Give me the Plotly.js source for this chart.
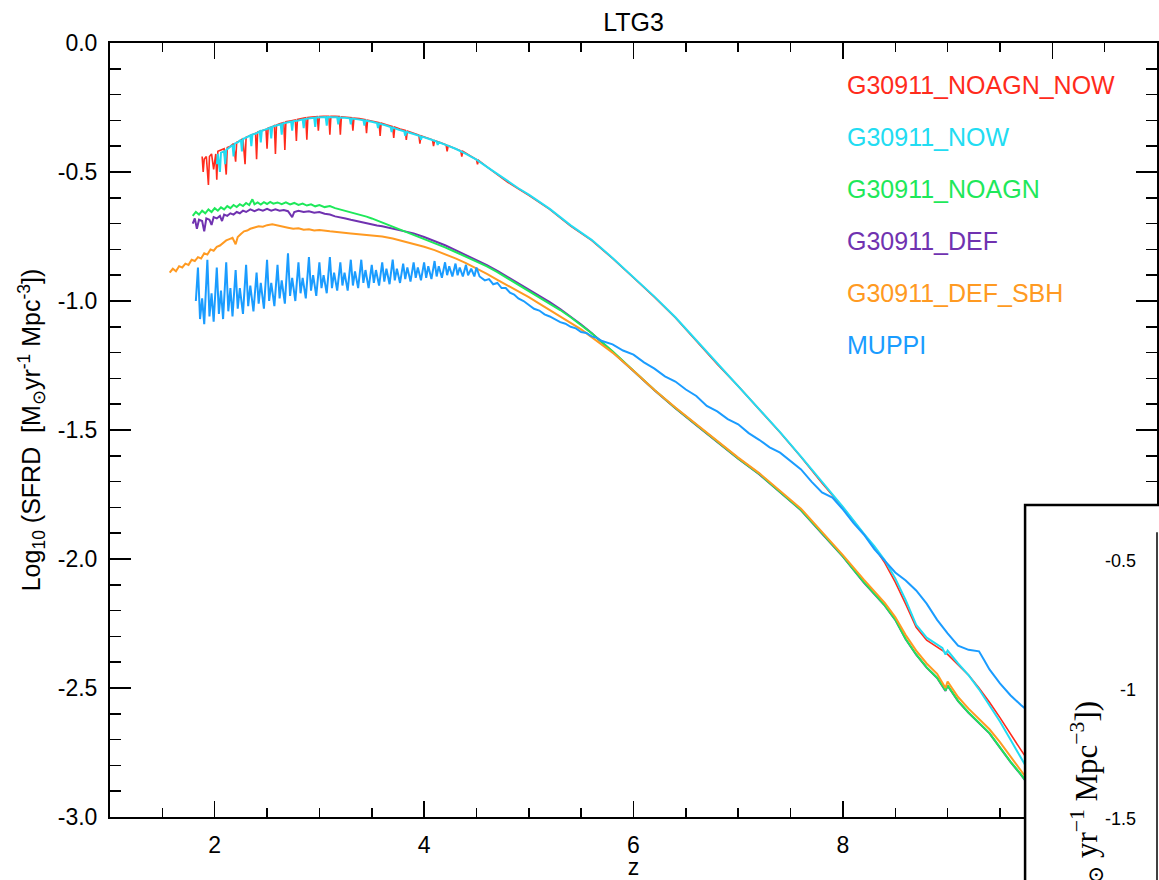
<!DOCTYPE html>
<html>
<head>
<meta charset="utf-8">
<script src="https://cdn.plot.ly/plotly-3.0.1.min.js"></script>
<style>html,body{margin:0;padding:0;background:#fff;}#chart{width:1159px;height:880px;}</style>
</head>
<body>
<div id="chart"></div>
<script>
// ---------------- data ----------------
const seriesNames = ["G30911_NOAGN_NOW", "G30911_NOW", "G30911_NOAGN", "G30911_DEF", "G30911_DEF_SBH", "MUPPI"];
const seriesColors = ["#ff2b1c", "#22dcf2", "#1ee85a", "#7032b0", "#ff9a22", "#1a9cff"];
const drawOrder = [0, 1, 3, 2, 4, 5];

const zNoagnNow = [1.88,1.89,1.90,1.92,1.94,1.95,1.97,1.99,2.01,2.02,
 2.03,2.06,2.09,2.11,2.12,2.15,2.18,2.20,2.21,2.24,
 2.27,2.29,2.30,2.33,2.36,2.39,2.40,2.41,2.45,2.49,
 2.50,2.51,2.55,2.57,2.58,2.59,2.62,2.66,2.67,2.68,
 2.72,2.77,2.78,2.79,2.83,2.87,2.88,2.89,2.93,2.98,
 2.99,3.00,3.04,3.09,3.10,3.11,3.15,3.19,3.20,3.21,
 3.26,3.31,3.32,3.33,3.38,3.44,3.45,3.46,3.52,3.57,
 3.58,3.59,3.64,3.70,3.71,3.72,3.77,3.82,3.83,3.84,
 3.90,3.95,3.96,3.97,4.03,4.08,4.09,4.10,4.16,4.21,
 4.22,4.23,4.30,4.35,4.36,4.37,4.45,4.50,4.51,4.52,
 4.60,4.7,4.8,4.9,5.0,5.2,5.4,5.6,5.8,6.0,6.2,
 6.4,6.6,6.8,7.0,7.2,7.4,7.6,7.8,8.0,8.2,
 8.3,8.4,8.5,8.6,8.7,8.8,8.9,8.97,9.0,9.1,
 9.2,9.3,9.4,9.5,9.6,9.7,9.8,10.0];
const yNoagnNow = [-0.44,-0.50,-0.45,-0.44,-0.55,-0.44,-0.43,-0.49,-0.43,-0.53,
 -0.42,-0.415,-0.41,-0.51,-0.405,-0.40,-0.39,-0.46,-0.385,-0.38,
 -0.37,-0.47,-0.365,-0.36,-0.355,-0.35,-0.45,-0.345,-0.34,-0.335,
 -0.41,-0.33,-0.325,-0.32,-0.43,-0.318,-0.313,-0.308,-0.415,-0.305,
 -0.302,-0.298,-0.38,-0.296,-0.293,-0.29,-0.375,-0.289,-0.287,-0.285,
 -0.34,-0.285,-0.284,-0.284,-0.355,-0.284,-0.284,-0.285,-0.355,-0.286,
 -0.288,-0.29,-0.34,-0.291,-0.293,-0.297,-0.35,-0.299,-0.304,-0.309,
 -0.36,-0.31,-0.317,-0.324,-0.368,-0.326,-0.333,-0.339,-0.376,-0.341,
 -0.35,-0.357,-0.39,-0.36,-0.368,-0.375,-0.40,-0.378,-0.387,-0.395,
 -0.42,-0.398,-0.41,-0.418,-0.44,-0.42,-0.44,-0.452,-0.47,-0.455,
 -0.48,-0.51,-0.54,-0.565,-0.59,-0.645,-0.71,-0.765,-0.835,-0.91,-0.985,
 -1.065,-1.155,-1.245,-1.33,-1.42,-1.51,-1.605,-1.705,-1.80,-1.905,
 -1.955,-2.015,-2.09,-2.175,-2.265,-2.315,-2.34,-2.36,-2.37,-2.41,
 -2.45,-2.50,-2.555,-2.615,-2.68,-2.74,-2.80,-2.92];

const zNow = [2.02,2.03,2.05,2.06,2.09,2.10,2.11,2.14,2.17,2.18,
 2.19,2.22,2.25,2.26,2.27,2.31,2.34,2.35,2.36,2.40,
 2.43,2.44,2.45,2.49,2.53,2.54,2.55,2.59,2.63,2.64,
 2.65,2.69,2.73,2.74,2.75,2.80,2.84,2.85,2.86,2.91,
 2.95,2.96,2.97,3.02,3.06,3.07,3.08,3.13,3.17,3.18,
 3.19,3.24,3.29,3.30,3.31,3.37,3.42,3.43,3.44,3.50,
 3.55,3.56,3.57,3.63,3.68,3.69,3.70,3.76,3.81,3.82,
 3.83,3.90,3.96,3.97,3.98,4.05,4.12,4.13,4.14,4.22,
 4.30,4.4,4.5,4.6,4.7,4.8,4.9,5.0,5.2,5.4,
 5.6,5.8,6.0,6.2,6.4,6.6,6.8,7.0,7.2,7.4,
 7.6,7.8,8.0,8.2,8.3,8.4,8.5,8.6,8.7,8.8,
 8.9,8.95,8.98,9.0,9.1,9.2,9.3,9.4,9.5,9.6,
 9.7,9.8,10.0];
const yNow = [-0.47,-0.43,-0.50,-0.425,-0.42,-0.47,-0.415,-0.405,-0.395,-0.44,
 -0.39,-0.385,-0.375,-0.42,-0.372,-0.365,-0.358,-0.40,-0.355,-0.35,
 -0.342,-0.385,-0.34,-0.335,-0.328,-0.37,-0.325,-0.32,-0.315,-0.355,
 -0.312,-0.308,-0.305,-0.34,-0.303,-0.30,-0.296,-0.33,-0.295,-0.292,
 -0.29,-0.325,-0.289,-0.288,-0.287,-0.32,-0.287,-0.288,-0.288,-0.315,
 -0.289,-0.29,-0.292,-0.315,-0.293,-0.296,-0.299,-0.32,-0.30,-0.305,
 -0.31,-0.33,-0.312,-0.319,-0.326,-0.345,-0.328,-0.336,-0.342,-0.36,
 -0.344,-0.353,-0.361,-0.375,-0.363,-0.372,-0.382,-0.395,-0.385,-0.397,
 -0.41,-0.43,-0.452,-0.48,-0.508,-0.538,-0.563,-0.588,-0.643,-0.707,
 -0.763,-0.833,-0.908,-0.983,-1.063,-1.152,-1.242,-1.328,-1.418,-1.508,
 -1.603,-1.702,-1.798,-1.902,-1.95,-2.005,-2.075,-2.16,-2.255,-2.305,
 -2.33,-2.345,-2.37,-2.355,-2.405,-2.45,-2.505,-2.565,-2.63,-2.70,
 -2.77,-2.84,-2.97];

const zNoagn = [1.79,1.82,1.85,1.88,1.91,1.94,1.97,2.00,2.03,2.06,
 2.09,2.12,2.15,2.18,2.21,2.24,2.27,2.30,2.33,2.36,
 2.38,2.41,2.44,2.47,2.50,2.53,2.56,2.60,2.64,2.68,
 2.72,2.76,2.80,2.84,2.88,2.92,2.96,3.00,3.05,3.10,
 3.15,3.20,3.25,3.30,3.35,3.40,3.45,3.50,3.55,3.60,
 3.65,3.70,3.75,3.80,3.85,3.90,4.0,4.1,4.2,4.3,
 4.4,4.5,4.6,4.7,4.8,4.9,5.0,5.1,5.2,5.3,
 5.4,5.5,5.6,5.7,5.8,6.0,6.2,6.4,6.6,6.8,
 7.0,7.2,7.4,7.6,7.8,8.0,8.1,8.2,8.4,8.5,
 8.6,8.7,8.8,8.9,8.98,9.0,9.1,9.2,9.3,9.4,
 9.5,9.6,9.7,9.8,10.0];
const yNoagn = [-0.67,-0.655,-0.665,-0.65,-0.66,-0.645,-0.655,-0.64,-0.65,-0.637,
 -0.645,-0.632,-0.64,-0.628,-0.636,-0.625,-0.632,-0.62,-0.628,-0.606,
 -0.625,-0.618,-0.626,-0.617,-0.624,-0.616,-0.623,-0.618,-0.625,-0.618,
 -0.626,-0.62,-0.628,-0.622,-0.63,-0.625,-0.633,-0.628,-0.636,-0.632,
 -0.64,-0.645,-0.65,-0.655,-0.66,-0.667,-0.673,-0.68,-0.688,-0.695,
 -0.703,-0.712,-0.72,-0.727,-0.735,-0.743,-0.76,-0.776,-0.792,-0.81,
 -0.828,-0.846,-0.866,-0.888,-0.912,-0.936,-0.96,-0.984,-1.008,-1.035,
 -1.063,-1.093,-1.125,-1.16,-1.195,-1.27,-1.345,-1.415,-1.48,-1.545,
 -1.61,-1.67,-1.74,-1.81,-1.90,-1.99,-2.04,-2.09,-2.18,-2.235,
 -2.31,-2.37,-2.42,-2.46,-2.51,-2.49,-2.55,-2.595,-2.635,-2.675,
 -2.73,-2.785,-2.835,-2.89,-3.0];

const zDef = [1.79,1.81,1.83,1.85,1.88,1.90,1.92,1.95,1.97,1.99,
 2.02,2.05,2.07,2.09,2.12,2.15,2.18,2.21,2.24,2.27,
 2.30,2.34,2.38,2.42,2.46,2.50,2.54,2.58,2.62,2.66,
 2.70,2.74,2.76,2.80,2.85,2.90,2.95,3.00,3.05,3.10,
 3.15,3.20,3.25,3.30,3.35,3.40,3.45,3.50,3.55,3.60,
 3.65,3.70,3.75,3.80,3.85,3.90,4.0,4.1,4.2,4.3,
 4.4,4.5,4.6,4.7,4.8,4.9,5.0,5.1,5.2,5.3,
 5.4,5.5,5.6,5.7,5.8,6.0,6.2,6.4,6.6,6.8,
 7.0,7.2,7.4,7.6,7.8,8.0,8.1,8.2,8.4,8.5,
 8.6,8.7,8.8,8.9,8.98,9.0,9.1,9.2,9.3,9.4,
 9.5,9.6,9.7,9.8,10.0];
const yDef = [-0.70,-0.68,-0.72,-0.685,-0.69,-0.73,-0.68,-0.685,-0.705,-0.675,
 -0.68,-0.67,-0.69,-0.665,-0.67,-0.66,-0.665,-0.655,-0.66,-0.65,
 -0.655,-0.645,-0.652,-0.645,-0.65,-0.643,-0.65,-0.645,-0.65,-0.647,
 -0.652,-0.675,-0.655,-0.65,-0.655,-0.652,-0.658,-0.655,-0.662,-0.665,
 -0.672,-0.675,-0.68,-0.685,-0.69,-0.695,-0.70,-0.703,-0.707,-0.71,
 -0.715,-0.72,-0.724,-0.728,-0.733,-0.738,-0.752,-0.767,-0.784,-0.803,
 -0.822,-0.841,-0.861,-0.883,-0.907,-0.931,-0.955,-0.98,-1.004,-1.031,
 -1.06,-1.091,-1.124,-1.16,-1.196,-1.271,-1.346,-1.416,-1.481,-1.546,
 -1.611,-1.671,-1.741,-1.811,-1.901,-1.991,-2.041,-2.091,-2.181,-2.236,
 -2.311,-2.371,-2.421,-2.461,-2.511,-2.491,-2.551,-2.596,-2.636,-2.676,
 -2.731,-2.786,-2.836,-2.891,-3.0];

const zDefSbh = [1.57,1.60,1.63,1.66,1.69,1.72,1.75,1.78,1.81,1.84,
 1.87,1.90,1.93,1.96,1.99,2.02,2.05,2.08,2.11,2.14,
 2.17,2.20,2.22,2.25,2.28,2.31,2.34,2.38,2.42,2.46,
 2.50,2.55,2.60,2.65,2.70,2.75,2.80,2.85,2.90,2.95,
 3.00,3.10,3.20,3.30,3.40,3.50,3.60,3.70,3.80,3.90,
 4.0,4.1,4.2,4.3,4.4,4.5,4.6,4.7,4.8,4.9,
 5.0,5.1,5.2,5.3,5.4,5.5,5.6,5.7,5.8,6.0,
 6.2,6.4,6.6,6.8,7.0,7.2,7.4,7.6,7.8,8.0,
 8.2,8.4,8.5,8.6,8.7,8.8,8.9,8.98,9.0,9.1,
 9.2,9.3,9.4,9.5,9.6,9.7,9.8,10.0];
const yDefSbh = [-0.89,-0.875,-0.885,-0.865,-0.87,-0.855,-0.86,-0.84,-0.845,-0.83,
 -0.835,-0.815,-0.82,-0.80,-0.805,-0.79,-0.785,-0.775,-0.765,-0.76,
 -0.755,-0.78,-0.752,-0.74,-0.73,-0.727,-0.72,-0.715,-0.71,-0.712,
 -0.706,-0.703,-0.708,-0.712,-0.716,-0.72,-0.718,-0.724,-0.722,-0.727,
 -0.725,-0.73,-0.735,-0.738,-0.742,-0.745,-0.75,-0.758,-0.768,-0.78,
 -0.79,-0.803,-0.818,-0.835,-0.853,-0.873,-0.895,-0.918,-0.94,-0.962,
 -0.985,-1.01,-1.035,-1.06,-1.085,-1.11,-1.14,-1.17,-1.20,-1.27,
 -1.345,-1.413,-1.478,-1.542,-1.607,-1.667,-1.736,-1.805,-1.895,-1.985,
 -2.08,-2.17,-2.225,-2.295,-2.355,-2.405,-2.445,-2.50,-2.475,-2.535,
 -2.58,-2.62,-2.66,-2.71,-2.765,-2.82,-2.875,-2.98];

const zMuppi = [1.82,
 1.84,1.86,1.88,1.90, 1.93,1.95,1.97,1.99, 2.02,2.04,2.06,2.08, 2.11,2.13,2.15,2.17,
 2.20,2.22,2.24,2.27, 2.30,2.32,2.34,2.37, 2.40,2.42,2.44,2.47, 2.50,2.52,2.54,2.57,
 2.60,2.62,2.64,2.67, 2.70,2.72,2.74,2.77, 2.80,2.82,2.84,2.87, 2.90,2.92,2.94,2.97,
 3.00,3.02,3.04,3.07, 3.10,3.12,3.14,3.17, 3.20,3.22,3.24,3.27, 3.30,3.32,3.34,3.37,
 3.40,3.42,3.44,3.47, 3.50,3.52,3.54,3.57, 3.60,3.62,3.64,3.67, 3.70,3.72,3.74,3.77,
 3.80,3.82,3.84,3.87, 3.90,3.92,3.94,3.97, 4.00,4.02,4.04,4.07, 4.10,4.12,4.14,4.17,
 4.20,4.22,4.24,4.27, 4.30,4.32,4.34,4.37, 4.40,4.42,4.45,4.48, 4.50,4.53,
 4.58,4.62,4.66,4.70,4.74,4.78,4.82,4.86,4.90,4.95,
 5.0,5.05,5.1,5.15,5.2,5.25,5.3,5.35,5.4,5.45,
 5.5,5.55,5.6,5.65,5.7,5.8,5.9,6.0,6.1,6.2,
 6.3,6.4,6.5,6.6,6.7,6.8,6.9,7.0,7.1,7.2,
 7.3,7.4,7.5,7.6,7.7,7.8,7.9,8.0,8.1,8.2,
 8.3,8.4,8.5,8.6,8.7,8.8,8.9,9.0,9.1,9.2,
 9.3,9.35,9.4,9.5,9.6,9.7,9.8,10.0];
const yMuppi = [-1.00,
 -0.87,-1.07,-0.99,-1.09, -0.84,-1.06,-0.97,-1.08, -0.87,-1.05,-0.96,-1.07, -0.85,-1.04,-0.95,-1.06,
 -0.88,-1.03,-0.95,-1.05, -0.86,-1.02,-0.94,-1.04, -0.89,-1.01,-0.93,-1.03, -0.84,-1.00,-0.93,-1.02,
 -0.86,-0.99,-0.92,-1.01, -0.815,-0.98,-0.91,-1.00, -0.85,-0.97,-0.91,-0.99, -0.83,-0.96,-0.90,-0.98,
 -0.85,-0.95,-0.90,-0.97, -0.83,-0.95,-0.89,-0.96, -0.85,-0.94,-0.89,-0.96, -0.84,-0.94,-0.885,-0.95,
 -0.84,-0.93,-0.88,-0.95, -0.86,-0.93,-0.88,-0.94, -0.85,-0.925,-0.875,-0.935, -0.84,-0.92,-0.875,-0.93,
 -0.855,-0.915,-0.87,-0.925, -0.85,-0.91,-0.87,-0.92, -0.85,-0.91,-0.865,-0.915, -0.845,-0.905,-0.865,-0.91,
 -0.85,-0.90,-0.865,-0.905, -0.855,-0.90,-0.87,-0.905, -0.86,-0.90,-0.875,-0.905, -0.87,-0.905,
 -0.92,-0.915,-0.935,-0.93,-0.95,-0.95,-0.968,-0.975,-0.99,-1.0,
 -1.015,-1.03,-1.037,-1.052,-1.06,-1.07,-1.082,-1.088,-1.10,-1.106,
 -1.12,-1.124,-1.137,-1.143,-1.155,-1.168,-1.192,-1.208,-1.238,-1.262,
 -1.292,-1.312,-1.343,-1.368,-1.407,-1.428,-1.458,-1.478,-1.512,-1.538,
 -1.567,-1.588,-1.622,-1.653,-1.70,-1.742,-1.762,-1.808,-1.86,-1.905,
 -1.962,-2.008,-2.052,-2.083,-2.122,-2.173,-2.236,-2.288,-2.336,-2.352,
 -2.358,-2.392,-2.428,-2.482,-2.528,-2.566,-2.60,-2.70];

const xTickVals = [2, 4, 6, 8, 10];
const xTickText = ["2", "4", "6", "8", "10"];
const yTickVals = [0, -0.5, -1, -1.5, -2, -2.5, -3];
const yTickText = ["0.0", "-0.5", "-1.0", "-1.5", "-2.0", "-2.5", "-3.0"];

// partially visible overlapping inset panel (bottom right)
const insetTickVals = [-0.5, -1, -1.5];
const insetTickText = ["-0.5", "-1", "-1.5"];
const insetLabel = "[M<sub>⊙</sub> yr<sup>−1</sup> Mpc<sup>−3</sup>])";

// ---------------- build ----------------
const xs = [zNoagnNow, zNow, zNoagn, zDef, zDefSbh, zMuppi];
const ys = [yNoagnNow, yNow, yNoagn, yDef, yDefSbh, yMuppi];
const widths = [1.6, 2, 2, 2, 2, 2];

const traces = drawOrder.map(i => ({
  type: 'scatter', mode: 'lines', name: seriesNames[i],
  x: xs[i], y: ys[i],
  line: {color: seriesColors[i], width: widths[i]},
  hoverinfo: 'skip'
}));

const FONT = 'Liberation Sans, Arial, Helvetica, sans-serif';
const Y0 = -3, Y1 = 0;
const plotTopPx = 43, plotBotPx = 817, pxPerUnit = (plotBotPx - plotTopPx) / (Y1 - Y0);

const annotations = seriesNames.map((n, i) => ({
  xref: 'paper', yref: 'paper', x: 0.702, y: 0.9457 - i * 0.0672,
  xanchor: 'left', yanchor: 'middle', showarrow: false,
  text: n, font: {family: FONT, size: 25, color: seriesColors[i]}
}));

// inset: tick labels placed with the same pixel scale, -0.5 at 561 px
const insetRefPx = 561;
insetTickVals.forEach((v, i) => {
  const px = insetRefPx - (v - insetTickVals[0]) * pxPerUnit;
  annotations.push({
    xref: 'paper', yref: 'paper', x: 0.9819, y: (plotBotPx - px) / (plotBotPx - plotTopPx),
    xanchor: 'right', yanchor: 'middle', showarrow: false,
    text: insetTickText[i], font: {family: FONT, size: 18, color: 'black'}
  });
});
annotations.push({
  xref: 'paper', yref: 'paper', x: 0.933, y: 0.153,
  xanchor: 'center', yanchor: 'top', showarrow: false, textangle: -90,
  text: insetLabel, font: {family: 'Liberation Serif, DejaVu Serif, serif', size: 31, color: 'black'}
});

const axisCommon = {
  showline: true, linewidth: 2, linecolor: 'black', mirror: 'ticks',
  ticks: 'inside', tickcolor: 'black', tickwidth: 1.5,
  showgrid: false, zeroline: false, tickmode: 'array',
  tickfont: {family: FONT, size: 23, color: 'black'}
};

const layout = {
  width: 1159, height: 880,
  margin: {l: 110, r: 2, t: 43, b: 63},
  paper_bgcolor: 'white', plot_bgcolor: 'white',
  showlegend: false,
  title: {text: 'LTG3', font: {family: FONT, size: 25, color: 'black'},
          x: 0.5, xref: 'paper', y: 0.975, yref: 'container', yanchor: 'middle'},
  xaxis: Object.assign({}, axisCommon, {
    range: [1, 11], tickvals: xTickVals, ticktext: xTickText, ticklen: 16,
    ticklabelstandoff: 6,
    minor: {dtick: 0.5, tick0: 0, ticks: 'inside', ticklen: 9, tickwidth: 1.5, tickcolor: 'black', showgrid: false},
    title: {text: 'z', font: {family: FONT, size: 23, color: 'black'}, standoff: 10}
  }),
  yaxis: Object.assign({}, axisCommon, {
    range: [Y0, Y1], tickvals: yTickVals, ticktext: yTickText, ticklen: 21,
    ticklabelstandoff: 6,
    minor: {dtick: 0.1, tick0: 0, ticks: 'inside', ticklen: 11, tickwidth: 1.5, tickcolor: 'black', showgrid: false},
    title: {text: 'Log<sub>10</sub> (SFRD  [M<sub>⊙</sub>yr<sup>-1</sup> Mpc<sup>-3</sup>])',
            font: {family: FONT, size: 25, color: 'black'}, standoff: 10}
  }),
  shapes: [
    {type: 'rect', xref: 'paper', yref: 'paper', x0: 0.874, x1: 1.2, y0: -0.3, y1: 0.403,
     fillcolor: 'white', line: {color: 'black', width: 2.5}, layer: 'above'},
    {type: 'line', xref: 'paper', yref: 'paper', x0: 1.0, x1: 1.0, y0: 0.368, y1: -0.3,
     line: {color: 'black', width: 1.5}, layer: 'above'}
  ],
  annotations: annotations
};

Plotly.newPlot('chart', traces, layout, {displayModeBar: false, staticPlot: true});
</script>
</body>
</html>
